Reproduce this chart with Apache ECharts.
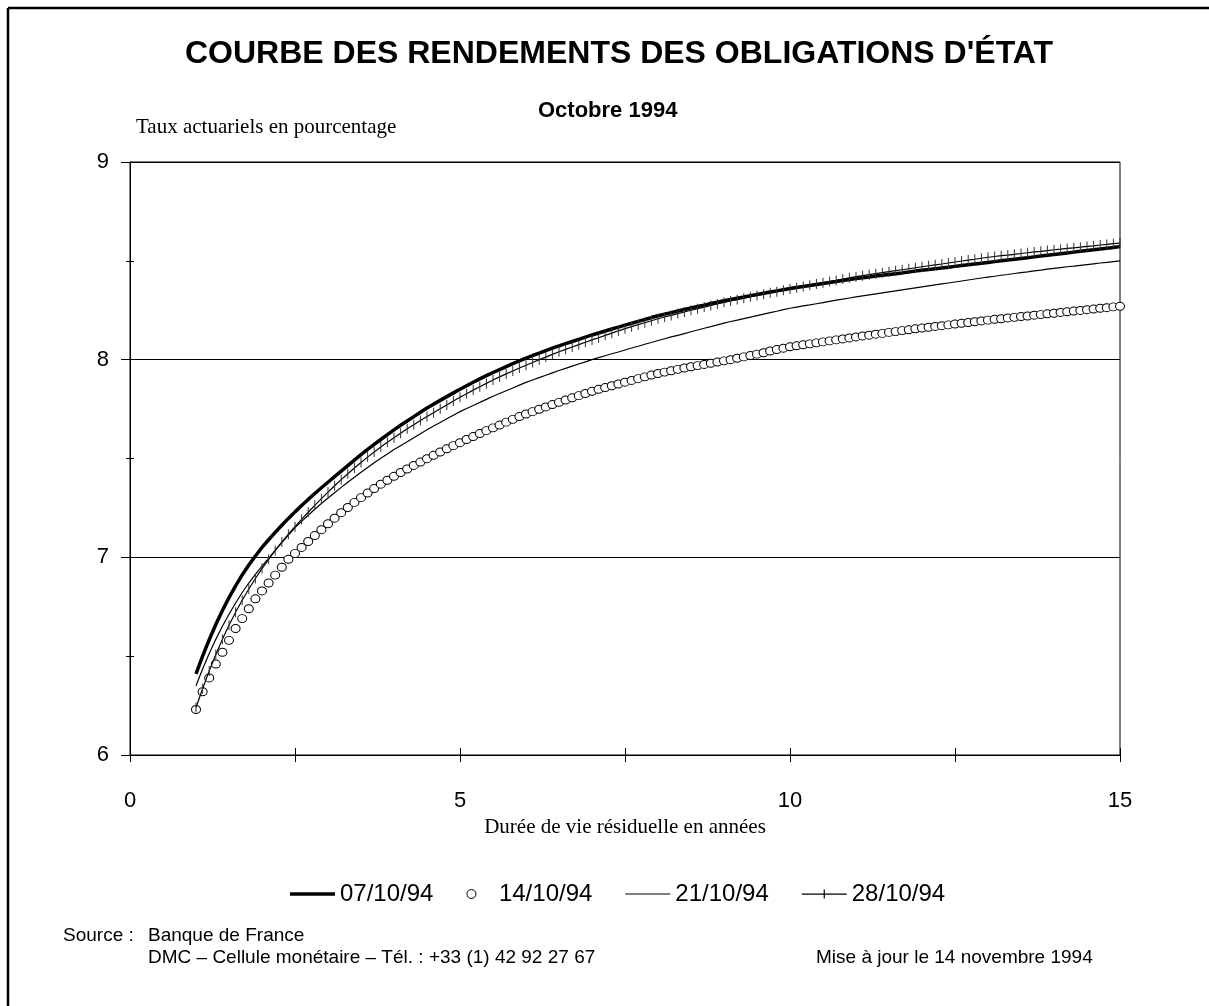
<!DOCTYPE html>
<html>
<head>
<meta charset="utf-8">
<script src="https://cdn.jsdelivr.net/npm/echarts@6/dist/echarts.min.js"></script>
<style>
  html, body { margin: 0; padding: 0; background: #fff; }
  #courbe-echart { width: 1209px; height: 1006px; }
</style>
</head>
<body>
<div id="courbe-echart"></div>
<script>
// durée de vie résiduelle (années)
var maturites = [
    1.0, 1.1, 1.2, 1.3, 1.4, 1.5, 1.6, 1.7, 1.8, 1.9,
    2.0, 2.1, 2.2, 2.3, 2.4, 2.5, 2.6, 2.7, 2.8, 2.9,
    3.0, 3.1, 3.2, 3.3, 3.4, 3.5, 3.6, 3.7, 3.8, 3.9,
    4.0, 4.1, 4.2, 4.3, 4.4, 4.5, 4.6, 4.7, 4.8, 4.9,
    5.0, 5.1, 5.2, 5.3, 5.4, 5.5, 5.6, 5.7, 5.8, 5.9,
    6.0, 6.1, 6.2, 6.3, 6.4, 6.5, 6.6, 6.7, 6.8, 6.9,
    7.0, 7.1, 7.2, 7.3, 7.4, 7.5, 7.6, 7.7, 7.8, 7.9,
    8.0, 8.1, 8.2, 8.3, 8.4, 8.5, 8.6, 8.7, 8.8, 8.9,
    9.0, 9.1, 9.2, 9.3, 9.4, 9.5, 9.6, 9.7, 9.8, 9.9,
    10.0, 10.1, 10.2, 10.3, 10.4, 10.5, 10.6, 10.7, 10.8, 10.9,
    11.0, 11.1, 11.2, 11.3, 11.4, 11.5, 11.6, 11.7, 11.8, 11.9,
    12.0, 12.1, 12.2, 12.3, 12.4, 12.5, 12.6, 12.7, 12.8, 12.9,
    13.0, 13.1, 13.2, 13.3, 13.4, 13.5, 13.6, 13.7, 13.8, 13.9,
    14.0, 14.1, 14.2, 14.3, 14.4, 14.5, 14.6, 14.7, 14.8, 14.9,
    15.0
];

// taux actuariels (%)
var taux071094 = [
    6.41, 6.5, 6.583, 6.66, 6.731, 6.796, 6.856, 6.911, 6.961, 7.007,
    7.05, 7.089, 7.126, 7.162, 7.197, 7.23, 7.262, 7.293, 7.323, 7.352,
    7.38, 7.408, 7.436, 7.464, 7.492, 7.52, 7.546, 7.571, 7.596, 7.621,
    7.645, 7.668, 7.69, 7.712, 7.734, 7.755, 7.775, 7.794, 7.813, 7.832,
    7.85, 7.868, 7.886, 7.903, 7.919, 7.935, 7.95, 7.965, 7.98, 7.994,
    8.008, 8.021, 8.033, 8.046, 8.058, 8.07, 8.081, 8.092, 8.103, 8.114,
    8.125, 8.135, 8.145, 8.155, 8.165, 8.175, 8.184, 8.194, 8.203, 8.213,
    8.222, 8.23, 8.238, 8.246, 8.254, 8.262, 8.269, 8.276, 8.284, 8.291,
    8.298, 8.304, 8.311, 8.317, 8.324, 8.33, 8.336, 8.342, 8.348, 8.354,
    8.36, 8.365, 8.37, 8.375, 8.38, 8.385, 8.39, 8.395, 8.4, 8.405,
    8.41, 8.414, 8.418, 8.423, 8.427, 8.431, 8.435, 8.439, 8.444, 8.448,
    8.452, 8.456, 8.46, 8.464, 8.468, 8.472, 8.476, 8.48, 8.484, 8.488,
    8.492, 8.496, 8.5, 8.504, 8.508, 8.512, 8.516, 8.52, 8.524, 8.528,
    8.532, 8.536, 8.54, 8.544, 8.548, 8.552, 8.556, 8.56, 8.564, 8.568,
    8.572
];
var taux141094 = [
    6.23, 6.32, 6.39, 6.46, 6.52, 6.58, 6.64, 6.69, 6.74, 6.79,
    6.83, 6.87, 6.91, 6.95, 6.99, 7.02, 7.05, 7.08, 7.11, 7.14,
    7.17, 7.198, 7.226, 7.252, 7.278, 7.302, 7.325, 7.348, 7.37, 7.39,
    7.41, 7.429, 7.447, 7.465, 7.482, 7.499, 7.516, 7.533, 7.549, 7.565,
    7.58, 7.596, 7.611, 7.626, 7.641, 7.655, 7.669, 7.684, 7.698, 7.712,
    7.725, 7.737, 7.749, 7.761, 7.773, 7.784, 7.796, 7.807, 7.818, 7.829,
    7.84, 7.85, 7.859, 7.868, 7.877, 7.886, 7.895, 7.904, 7.913, 7.922,
    7.93, 7.937, 7.944, 7.951, 7.958, 7.964, 7.97, 7.976, 7.982, 7.988,
    7.994, 8.0, 8.007, 8.014, 8.021, 8.028, 8.035, 8.044, 8.051, 8.058,
    8.065, 8.07, 8.075, 8.08, 8.085, 8.09, 8.095, 8.1, 8.105, 8.11,
    8.115, 8.12, 8.124, 8.129, 8.133, 8.138, 8.142, 8.147, 8.151, 8.156,
    8.16, 8.164, 8.168, 8.172, 8.176, 8.18, 8.184, 8.188, 8.192, 8.196,
    8.2, 8.204, 8.207, 8.211, 8.214, 8.218, 8.221, 8.225, 8.228, 8.232,
    8.235, 8.239, 8.242, 8.246, 8.249, 8.253, 8.256, 8.26, 8.263, 8.267,
    8.27
];
var taux211094 = [
    6.35, 6.435, 6.513, 6.585, 6.651, 6.712, 6.769, 6.822, 6.87, 6.914,
    6.955, 6.995, 7.035, 7.074, 7.112, 7.15, 7.182, 7.213, 7.243, 7.272,
    7.30, 7.327, 7.354, 7.38, 7.405, 7.43, 7.454, 7.478, 7.501, 7.523,
    7.545, 7.565, 7.585, 7.605, 7.625, 7.645, 7.664, 7.682, 7.701, 7.719,
    7.737, 7.753, 7.768, 7.784, 7.799, 7.815, 7.829, 7.843, 7.857, 7.871,
    7.885, 7.897, 7.909, 7.921, 7.933, 7.945, 7.956, 7.967, 7.978, 7.989,
    8.0, 8.01, 8.02, 8.03, 8.039, 8.049, 8.059, 8.068, 8.078, 8.087,
    8.097, 8.106, 8.115, 8.123, 8.132, 8.141, 8.15, 8.159, 8.167, 8.176,
    8.185, 8.193, 8.2, 8.208, 8.215, 8.223, 8.23, 8.238, 8.245, 8.253,
    8.26, 8.266, 8.272, 8.277, 8.283, 8.289, 8.295, 8.301, 8.306, 8.312,
    8.318, 8.323, 8.328, 8.333, 8.338, 8.343, 8.348, 8.353, 8.358, 8.363,
    8.368, 8.373, 8.378, 8.383, 8.388, 8.393, 8.398, 8.403, 8.408, 8.413,
    8.418, 8.422, 8.427, 8.431, 8.436, 8.44, 8.444, 8.449, 8.453, 8.458,
    8.462, 8.466, 8.47, 8.473, 8.477, 8.481, 8.485, 8.489, 8.492, 8.496,
    8.50
];
var taux281094 = [
    6.24, 6.335, 6.425, 6.508, 6.585, 6.656, 6.722, 6.783, 6.84, 6.893,
    6.943, 6.99, 7.035, 7.077, 7.117, 7.155, 7.192, 7.228, 7.263, 7.297,
    7.33, 7.362, 7.393, 7.423, 7.452, 7.48, 7.507, 7.533, 7.558, 7.582,
    7.605, 7.628, 7.65, 7.671, 7.692, 7.712, 7.732, 7.752, 7.771, 7.791,
    7.81, 7.828, 7.846, 7.863, 7.88, 7.897, 7.913, 7.928, 7.943, 7.958,
    7.972, 7.986, 8.0, 8.013, 8.027, 8.04, 8.052, 8.064, 8.076, 8.088,
    8.10, 8.111, 8.123, 8.134, 8.146, 8.157, 8.167, 8.177, 8.187, 8.197,
    8.207, 8.216, 8.224, 8.233, 8.241, 8.25, 8.258, 8.266, 8.274, 8.282,
    8.29, 8.297, 8.304, 8.311, 8.318, 8.325, 8.331, 8.338, 8.344, 8.351,
    8.357, 8.364, 8.37, 8.376, 8.383, 8.389, 8.395, 8.401, 8.408, 8.414,
    8.42, 8.425, 8.43, 8.435, 8.44, 8.445, 8.45, 8.455, 8.46, 8.465,
    8.47, 8.475, 8.48, 8.484, 8.489, 8.494, 8.499, 8.504, 8.508, 8.513,
    8.518, 8.522, 8.526, 8.529, 8.533, 8.537, 8.541, 8.545, 8.548, 8.552,
    8.556, 8.559, 8.563, 8.566, 8.569, 8.573, 8.576, 8.58, 8.583, 8.587,
    8.59
];

var dates = ['07/10/94', '14/10/94', '21/10/94', '28/10/94'];

function paires(valeurs) {
    return maturites.map(function (m, i) { return [m, valeurs[i]]; });
}

var sans = 'Liberation Sans';
var serif = 'Liberation Serif';

var myChart = echarts.init(document.getElementById('courbe-echart'));
var option = {
    animation: false,
    backgroundColor: '#fff',
    grid: {
        left: 130,
        right: 89,
        top: 162,
        bottom: 251,
        show: true,
        borderColor: '#000',
        borderWidth: 1
    },
    legend: {
        left: 285,
        top: 877,
        itemWidth: 45,
        itemHeight: 9,
        itemGap: 33,
        textStyle: { fontFamily: sans, fontSize: 24, color: '#000' },
        data: [
            { name: dates[0], icon: 'path://M0,0 H45 V3.5 H0 Z', itemStyle: { color: '#000', borderWidth: 0 } },
            { name: dates[1], icon: 'circle', itemStyle: { color: '#fff', borderColor: '#000', borderWidth: 1 } },
            { name: dates[2], icon: 'path://M0,0 H45 V1.2 H0 Z', itemStyle: { color: '#000', borderWidth: 0 } },
            { name: dates[3], icon: 'path://M0,4 H45 V5.2 H0 Z M21.9,0 H23.1 V9 H21.9 Z', itemStyle: { color: '#000', borderWidth: 0 } }
        ]
    },
    xAxis: [{
        type: 'value',
        min: 0,
        max: 15,
        interval: 2.5,
        axisLine: { lineStyle: { color: '#000', width: 1 } },
        axisTick: { show: false },
        axisLabel: {
            margin: 35,
            fontFamily: sans,
            fontSize: 22,
            color: '#000',
            formatter: function (v) { return v % 5 === 0 ? String(v) : ''; }
        },
        splitLine: { show: false },
        name: 'Durée de vie résiduelle en années',
        nameLocation: 'middle',
        nameGap: 61,
        nameTextStyle: { fontFamily: serif, fontSize: 21, color: '#000' }
    }, {
        type: 'value',
        min: 0,
        max: 15,
        interval: 2.5,
        position: 'bottom',
        offset: -7,
        axisLine: { show: false },
        axisTick: { show: true, length: 14, lineStyle: { color: '#000', width: 1 } },
        axisLabel: { show: false },
        splitLine: { show: false }
    }],
    yAxis: [{
        type: 'value',
        min: 6,
        max: 9,
        interval: 1,
        axisLine: { show: true, lineStyle: { color: '#000', width: 1 } },
        axisTick: { show: true, length: 9, lineStyle: { color: '#000', width: 1 } },
        axisLabel: { margin: 21, fontFamily: sans, fontSize: 22, color: '#000' },
        splitLine: { show: true, lineStyle: { color: '#000', width: 1 } }
    }, {
        type: 'value',
        min: 6,
        max: 9,
        interval: 0.5,
        position: 'left',
        offset: -4,
        axisLine: { show: false },
        axisTick: { show: true, length: 8, lineStyle: { color: '#000', width: 1 } },
        axisLabel: { show: false },
        splitLine: { show: false }
    }],
    series: [{
        name: dates[0],
        type: 'line',
        data: paires(taux071094),
        symbol: 'none',
        lineStyle: { color: '#000', width: 3.5 },
        itemStyle: { color: '#000' },
        z: 3
    }, {
        name: dates[1],
        type: 'line',
        data: paires(taux141094),
        symbol: 'circle',
        symbolSize: [9, 8],
        lineStyle: { opacity: 0, width: 0 },
        itemStyle: { color: '#fff', borderColor: '#000', borderWidth: 1 },
        z: 2
    }, {
        name: dates[2],
        type: 'line',
        data: paires(taux211094),
        symbol: 'none',
        lineStyle: { color: '#000', width: 1.2 },
        itemStyle: { color: '#000' },
        z: 3
    }, {
        name: dates[3],
        type: 'line',
        data: paires(taux281094),
        symbol: 'rect',
        symbolSize: [1, 10],
        lineStyle: { color: '#000', width: 1.2 },
        itemStyle: { color: '#333' },
        z: 3
    }],
    graphic: [
        // cadre de la page
        { type: 'line', shape: { x1: 8, y1: 8, x2: 1209, y2: 8 }, style: { stroke: '#000', lineWidth: 2.5 } },
        { type: 'line', shape: { x1: 8, y1: 8, x2: 8, y2: 1006 }, style: { stroke: '#000', lineWidth: 2.5 } },
        {
            type: 'text', left: 185, top: 38,
            style: { text: "COURBE DES RENDEMENTS DES OBLIGATIONS D'ÉTAT", font: 'bold 32px "Liberation Sans"', fill: '#000' }
        },
        {
            type: 'text', left: 538, top: 100,
            style: { text: 'Octobre 1994', font: 'bold 22px "Liberation Sans"', fill: '#000' }
        },
        {
            type: 'text', left: 136, top: 117,
            style: { text: 'Taux actuariels en pourcentage', font: '21px "Liberation Serif"', fill: '#000' }
        },
        {
            type: 'text', left: 63, top: 926,
            style: { text: 'Source :', font: '19px "Liberation Sans"', fill: '#000' }
        },
        {
            type: 'text', left: 148, top: 926,
            style: { text: 'Banque de France', font: '19px "Liberation Sans"', fill: '#000' }
        },
        {
            type: 'text', left: 148, top: 948,
            style: { text: 'DMC – Cellule monétaire – Tél. : +33 (1) 42 92 27 67', font: '19px "Liberation Sans"', fill: '#000' }
        },
        {
            type: 'text', left: 816, top: 948,
            style: { text: 'Mise à jour le 14 novembre 1994', font: '19px "Liberation Sans"', fill: '#000' }
        }
    ]
};
myChart.setOption(option);
</script>
</body>
</html>
